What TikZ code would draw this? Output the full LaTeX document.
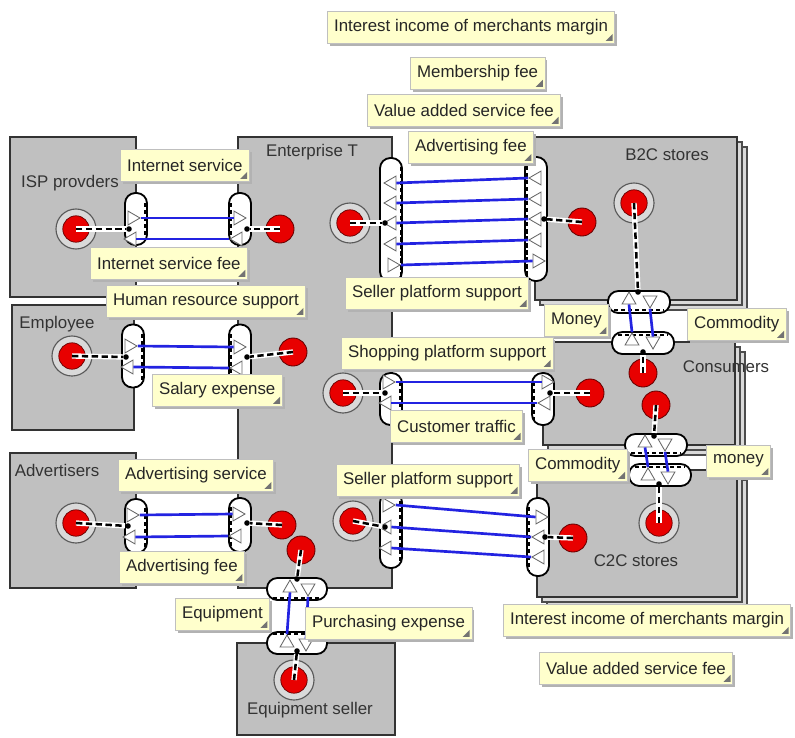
\documentclass[tikz,border=0pt]{standalone}
\usepackage{fontspec}
\setmainfont{Liberation Sans}
\usepackage{tikz}
\usetikzlibrary{shapes.geometric,shadows}
\definecolor{actorgray}{RGB}{192,192,192}
\definecolor{notefill}{RGB}{255,255,204}
\definecolor{stimred}{RGB}{232,0,0}
\definecolor{flowblue}{RGB}{35,35,225}

\begin{document}
\begin{tikzpicture}[x=0.025cm,y=-0.025cm,font=\fontsize{12}{14}\selectfont]
\tikzset{
  actor/.style={draw=black!80, line width=1.6pt, fill=actorgray},
  segshadow/.style={draw=black!70, line width=1pt, fill=actorgray!60},
  actorname/.style={text=black!80},
  viface/.style={draw=black, line width=1.3pt, fill=white, rounded corners=0.26cm, minimum width=0.55cm, minimum height=#1, inner sep=0pt},
  hiface/.style={draw=black, line width=1.3pt, fill=white, rounded corners=0.26cm, minimum height=0.55cm, minimum width=#1, inner sep=0pt},
  portline/.style={line width=1pt, dash pattern=on 3pt off 2pt},
  vport/.style={isosceles triangle, isosceles triangle apex angle=60, draw=black!60, fill=white, line width=0.6pt, inner sep=0pt, minimum size=0.3cm, shape border rotate=#1},
  flow/.style={draw=flowblue, line width=1.9pt},
  startstim/.style={circle, draw=black!65, line width=0.8pt, fill=actorgray!60, minimum size=1cm, inner sep=0pt,
    path picture={\fill[stimred] (path picture bounding box.center) circle (0.33cm);
      \draw[red!40!black, line width=0.5pt] (path picture bounding box.center) circle (0.33cm);}},
  endstim/.style={circle, draw=red!40!black, line width=0.6pt, fill=stimred, minimum size=0.7cm, inner sep=0pt},
  dep/.style={line width=1.8pt, dash pattern=on 4.5pt off 2.5pt, preaction={draw=white, line width=3.8pt, solid}},
  ifdot/.style={circle, fill=black, minimum size=0.14cm, inner sep=0pt},
  note/.style={draw=black!25, line width=0.4pt, fill=notefill, text=black!85, anchor=west, minimum height=0.8cm, inner xsep=0.17cm,
    drop shadow={shadow xshift=1.8pt, shadow yshift=-1.8pt, fill=black!30, opacity=1},
    path picture={\fill[black!55] ([xshift=-1.5pt,yshift=1.5pt]path picture bounding box.south east) -- ++(0,5pt) -- ++(-5pt,-5pt) -- cycle;}}
}
\useasboundingbox (0,0) rectangle (795,737);
\fill[white] (0,0) rectangle (795,737);

% Actores
\draw[segshadow] (545,147) rectangle (747,310);
\draw[segshadow] (540,142) rectangle (742,305);
\draw[actor] (535,137) rectangle (737,300);
\draw[segshadow] (553,352) rectangle (745,455);
\draw[segshadow] (548,347) rectangle (740,450);
\draw[actor] (543,342) rectangle (735,445);
\draw[segshadow] (547,480) rectangle (747,607);
\draw[segshadow] (542,475) rectangle (742,602);
\draw[actor] (537,470) rectangle (737,597);
\draw[actor] (10,137) rectangle (136,297);
\draw[actor] (12,305) rectangle (134,430);
\draw[actor] (10,453) rectangle (136,588);
\draw[actor] (238,137) rectangle (392,588);
\draw[actor] (237,643) rectangle (395,735);

\node[actorname] (lIsp) at (70,183) {ISP provders};
\node[actorname] (lEnt) at (312,152) {Enterprise T};
\node[actorname] (lB2c) at (667,155) {B2C stores};
\node[actorname] (lEmp) at (57,324) {Employee};
\node[actorname] (lCons) at (726,367) {Consumers};
\node[actorname] (lAdv) at (57,470) {Advertisers};
\node[actorname] (lC2c) at (636,561) {C2C stores};
\node[actorname] (lEqs) at (310,710) {Equipment seller};

% Interfaces
\node[viface=1.3cm] (iIsp) at (136,219) {};
\node[viface=1.3cm] (iEntIsp) at (240,219) {};
\node[viface=3.1cm] (iEntB2c) at (391,220) {};
\node[viface=3.1cm] (iB2c) at (536,219) {};
\node[viface=1.575cm] (iEmp) at (133,356) {};
\node[viface=1.575cm] (iEntEmp) at (240,356) {};
\node[viface=1.3cm] (iEntShop) at (391,399) {};
\node[viface=1.3cm] (iConsShop) at (543,399) {};
\node[viface=1.9cm] (iEntC2c) at (391,530) {};
\node[viface=1.95cm] (iC2c) at (538,537) {};
\node[viface=1.35cm] (iAdv) at (136,526) {};
\node[viface=1.35cm] (iEntAdv) at (240,525) {};
\node[hiface=1.5cm] (iEntEq) at (297,589) {};
\node[hiface=1.5cm] (iEqs) at (297,643) {};
\node[hiface=1.55cm] (iB2cCons) at (639,302) {};
\node[hiface=1.55cm] (iConsB2c) at (643,343) {};
\node[hiface=1.55cm] (iConsC2c) at (656,445) {};
\node[hiface=1.55cm] (iC2cCons) at (660,475) {};

\draw[portline] (145,203) -- (145,241);
\draw[portline] (231,203) -- (231,241);
\draw[portline] (401,167) -- (401,278);
\draw[portline] (527,166) -- (527,277);
\draw[portline] (142,334) -- (142,384);
\draw[portline] (231,334) -- (231,384);
\draw[portline] (400,382) -- (400,421);
\draw[portline] (534,382) -- (534,421);
\draw[portline] (400,501) -- (400,564);
\draw[portline] (529,507) -- (529,572);
\draw[portline] (145,508) -- (145,549);
\draw[portline] (231,507) -- (231,548);
\draw[portline] (273,598) -- (321,598);
\draw[portline] (273,634) -- (321,634);
\draw[portline] (614,310) -- (664,310);
\draw[portline] (618,335) -- (668,335);
\draw[portline] (631,453) -- (681,453);
\draw[portline] (635,467) -- (685,467);

% Puertos
\node[vport=0] (tIspA) at (132,218) {};
\node[vport=180] (tIspB) at (132,239) {};
\node[vport=0] (tEntIspA) at (238,218) {};
\node[vport=180] (tEntIspB) at (238,239) {};
\node[vport=180] (tEntB2cA) at (392,183) {};
\node[vport=180] (tEntB2cB) at (392,203) {};
\node[vport=180] (tEntB2cC) at (392,223) {};
\node[vport=180] (tEntB2cD) at (392,244) {};
\node[vport=0] (tEntB2cE) at (392,265) {};
\node[vport=180] (tB2cA) at (537,178) {};
\node[vport=180] (tB2cB) at (537,199) {};
\node[vport=180] (tB2cC) at (537,219) {};
\node[vport=180] (tB2cD) at (537,240) {};
\node[vport=0] (tB2cE) at (537,261) {};
\node[vport=0] (tEmpA) at (129,346) {};
\node[vport=180] (tEmpB) at (129,367) {};
\node[vport=0] (tEntEmpA) at (238,347) {};
\node[vport=180] (tEntEmpB) at (238,368) {};
\node[vport=0] (tEntShopA) at (387,382) {};
\node[vport=180] (tEntShopB) at (387,403) {};
\node[vport=0] (tConsShopA) at (546,382) {};
\node[vport=180] (tConsShopB) at (546,403) {};
\node[vport=0] (tEntC2cA) at (387,505) {};
\node[vport=180] (tEntC2cB) at (387,527) {};
\node[vport=180] (tEntC2cC) at (387,548) {};
\node[vport=0] (tC2cA) at (540,517) {};
\node[vport=180] (tC2cB) at (540,537) {};
\node[vport=180] (tC2cC) at (540,557) {};
\node[vport=0] (tAdvA) at (131,515) {};
\node[vport=180] (tAdvB) at (131,537) {};
\node[vport=0] (tEntAdvA) at (237,514) {};
\node[vport=180] (tEntAdvB) at (237,536) {};
\node[vport=90] (tEntEqA) at (290,588) {};
\node[vport=270] (tEntEqB) at (308,588) {};
\node[vport=90] (tEqsA) at (287,643) {};
\node[vport=270] (tEqsB) at (306,643) {};
\node[vport=90] (tB2cConsA) at (629,300) {};
\node[vport=270] (tB2cConsB) at (650,300) {};
\node[vport=90] (tConsB2cA) at (632,341) {};
\node[vport=270] (tConsB2cB) at (653,341) {};
\node[vport=90] (tConsC2cA) at (645,443) {};
\node[vport=270] (tConsC2cB) at (665,443) {};
\node[vport=90] (tC2cConsA) at (648,476) {};
\node[vport=270] (tC2cConsB) at (668,476) {};

% Transferencias de valor
\draw[flow] (tIspA.apex) -- (tEntIspA.lower side);
\draw[flow] (tEntIspB.apex) -- (tIspB.lower side);
\draw[flow] (tB2cA.apex) -- (tEntB2cA.lower side);
\draw[flow] (tB2cB.apex) -- (tEntB2cB.lower side);
\draw[flow] (tB2cC.apex) -- (tEntB2cC.lower side);
\draw[flow] (tB2cD.apex) -- (tEntB2cD.lower side);
\draw[flow] (tEntB2cE.apex) -- (tB2cE.lower side);
\draw[flow] (tEmpA.apex) -- (tEntEmpA.lower side);
\draw[flow] (tEntEmpB.apex) -- (tEmpB.lower side);
\draw[flow] (tEntShopA.apex) -- (tConsShopA.lower side);
\draw[flow] (tConsShopB.apex) -- (tEntShopB.lower side);
\draw[flow] (tEntC2cA.apex) -- (tC2cA.lower side);
\draw[flow] (tC2cB.apex) -- (tEntC2cB.lower side);
\draw[flow] (tC2cC.apex) -- (tEntC2cC.lower side);
\draw[flow] (tAdvA.apex) -- (tEntAdvA.lower side);
\draw[flow] (tEntAdvB.apex) -- (tAdvB.lower side);
\draw[flow] (tEqsA.apex) -- (tEntEqA.lower side);
\draw[flow] (tEntEqB.apex) -- (tEqsB.lower side);
\draw[flow] (tConsB2cA.apex) -- (tB2cConsA.lower side);
\draw[flow] (tB2cConsB.apex) -- (tConsB2cB.lower side);
\draw[flow] (tC2cConsA.apex) -- (tConsC2cA.lower side);
\draw[flow] (tConsC2cB.apex) -- (tC2cConsB.lower side);

% Estimulos
\node[startstim] (sIsp) at (76,229) {};
\node[endstim] (eEntIsp) at (280,229) {};
\node[startstim] (sEntB2c) at (350,223) {};
\node[endstim] (eB2c) at (582,222) {};
\node[startstim] (sB2c) at (634,203) {};
\node[startstim] (sEmp) at (72,356) {};
\node[endstim] (eEntEmp) at (293,352) {};
\node[startstim] (sEntShop) at (343,393) {};
\node[endstim] (eConsShop) at (590,393) {};
\node[endstim] (eConsB2c) at (643,373) {};
\node[endstim] (eConsC2c) at (656,405) {};
\node[startstim] (sAdv) at (76,523) {};
\node[endstim] (eEntAdv) at (282,525) {};
\node[endstim] (eEntEq) at (301,550) {};
\node[startstim] (sEntC2c) at (353,521) {};
\node[endstim] (eC2c) at (573,538) {};
\node[startstim] (sC2c) at (659,523) {};
\node[startstim] (sEqs) at (294,680) {};

\node[ifdot] (dIsp) at (129,229) {};
\node[ifdot] (dEntIsp) at (247,229) {};
\node[ifdot] (dEntB2c) at (385,223) {};
\node[ifdot] (dB2c) at (544,219) {};
\node[ifdot] (dEmp) at (126,357) {};
\node[ifdot] (dEntEmp) at (247,357) {};
\node[ifdot] (dEntShop) at (385,393) {};
\node[ifdot] (dConsShop) at (550,393) {};
\node[ifdot] (dEntC2c) at (385,527) {};
\node[ifdot] (dC2c) at (545,537) {};
\node[ifdot] (dAdv) at (128,526) {};
\node[ifdot] (dEntAdv) at (247,523) {};
\node[ifdot] (dEntEq) at (297,579) {};
\node[ifdot] (dEqs) at (297,651) {};
\node[ifdot] (dB2cCons) at (638,292) {};
\node[ifdot] (dConsB2c) at (643,352) {};
\node[ifdot] (dConsC2c) at (654,436) {};
\node[ifdot] (dC2cCons) at (659,484) {};

\draw[dep] (sIsp.center) -- (dIsp);
\draw[dep] (eEntIsp.center) -- (dEntIsp);
\draw[dep] (sEntB2c.center) -- (dEntB2c);
\draw[dep] (eB2c.center) -- (dB2c);
\draw[dep] (sB2c.center) -- (dB2cCons);
\draw[dep] (sEmp.center) -- (dEmp);
\draw[dep] (eEntEmp.center) -- (dEntEmp);
\draw[dep] (sEntShop.center) -- (dEntShop);
\draw[dep] (eConsShop.center) -- (dConsShop);
\draw[dep] (eConsB2c.center) -- (dConsB2c);
\draw[dep] (eConsC2c.center) -- (dConsC2c);
\draw[dep] (sAdv.center) -- (dAdv);
\draw[dep] (eEntAdv.center) -- (dEntAdv);
\draw[dep] (eEntEq.center) -- (dEntEq);
\draw[dep] (sEntC2c.center) -- (dEntC2c);
\draw[dep] (eC2c.center) -- (dC2c);
\draw[dep] (sC2c.center) -- (dC2cCons);
\draw[dep] (sEqs.center) -- (dEqs);

% Etiquetas
\node[note] (nIimTop) at (327,27) {Interest income of merchants margin};
\node[note] (nMember) at (410,73) {Membership fee};
\node[note] (nVasTop) at (367,110) {Value added service fee};
\node[note] (nAdvFeeTop) at (408,147) {Advertising fee};
\node[note] (nNet) at (120,165) {Internet service};
\node[note] (nNetFee) at (90,263) {Internet service fee};
\node[note] (nHr) at (106,301) {Human resource support};
\node[note] (nSalary) at (152,390) {Salary expense};
\node[note] (nSellerTop) at (345,293) {Seller platform support};
\node[note] (nMoneyB2c) at (544,320) {Money};
\node[note] (nComB2c) at (687,324) {Commodity};
\node[note] (nShop) at (341,353) {Shopping platform support};
\node[note] (nTraffic) at (390,426) {Customer traffic};
\node[note] (nComC2c) at (528,465) {Commodity};
\node[note] (nMoneyC2c) at (706,461) {money};
\node[note] (nSellerLow) at (336,480) {Seller platform support};
\node[note] (nAdvService) at (118,475) {Advertising service};
\node[note] (nAdvFeeLow) at (119,567) {Advertising fee};
\node[note] (nEquip) at (175,614) {Equipment};
\node[note] (nPurchase) at (305,623) {Purchasing expense};
\node[note] (nIimLow) at (503,620) {Interest income of merchants margin};
\node[note] (nVasLow) at (539,668) {Value added service fee};
\end{tikzpicture}
\end{document}
